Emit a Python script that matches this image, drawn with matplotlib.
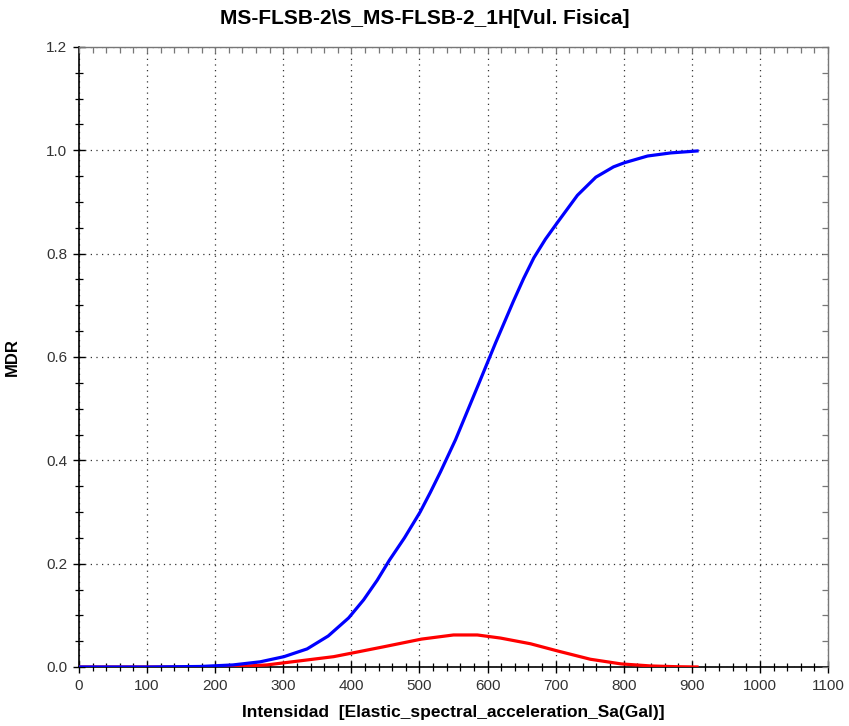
import matplotlib
matplotlib.use("Agg")
import matplotlib.pyplot as plt
from matplotlib.ticker import MultipleLocator, FormatStrFormatter, NullFormatter

plt.rcParams['font.family'] = ['Liberation Sans', 'DejaVu Sans']

# Intensity (Sa, Gal) and mean damage ratio curves
intensity_mdr = [0, 100, 178, 226, 266, 301, 335, 366, 396, 418, 438, 456, 478,
                 501, 516, 531, 553, 587, 612, 638, 653, 668, 685, 703, 732, 759,
                 785, 801, 835, 869, 910]
mdr_mean = [0.0, 0.0, 0.001, 0.004, 0.010, 0.020, 0.035, 0.060, 0.095, 0.130,
            0.168, 0.207, 0.250, 0.300, 0.338, 0.378, 0.440, 0.548, 0.628, 0.708,
            0.752, 0.792, 0.828, 0.861, 0.913, 0.948, 0.968, 0.976, 0.989, 0.995,
            0.999]

intensity_sd = [0, 100, 200, 226, 276, 325, 374, 401, 447, 503, 550, 585, 619,
                663, 703, 751, 796, 840, 880, 910]
mdr_sd = [0.0, 0.0, 0.0, 0.0005, 0.004, 0.012, 0.020, 0.027, 0.039, 0.054,
          0.062, 0.062, 0.056, 0.045, 0.031, 0.015, 0.006, 0.002, 0.0005, 0.0]

title = "MS-FLSB-2\\S_MS-FLSB-2_1H[Vul. Fisica]"
xlabel = "Intensidad  [Elastic_spectral_acceleration_Sa(Gal)]"
ylabel = "MDR"

fig = plt.figure(figsize=(8.49, 7.26), dpi=100)
ax = fig.add_axes([79 / 849, 59 / 726, 749 / 849, 620 / 726])

ax.plot(intensity_sd, mdr_sd, color="#ff0000", lw=2.3, solid_capstyle="butt", zorder=3)
ax.plot(intensity_mdr, mdr_mean, color="#0000ff", lw=2.3, solid_capstyle="butt", zorder=4)

ax.set_xlim(0, 1100)
ax.set_ylim(0, 1.2)
ax.xaxis.set_major_locator(MultipleLocator(100))
ax.xaxis.set_minor_locator(MultipleLocator(20))
ax.yaxis.set_major_locator(MultipleLocator(0.2))
ax.yaxis.set_minor_locator(MultipleLocator(0.05))
ax.yaxis.set_major_formatter(FormatStrFormatter("%.1f"))

ax.grid(True, which="major", color="#333333", linestyle=(0, (1, 3.5)), linewidth=0.9)

for side in ("left", "bottom"):
    ax.spines[side].set_color("black")
    ax.spines[side].set_linewidth(1.2)
for side in ("right", "top"):
    ax.spines[side].set_color("#777777")
    ax.spines[side].set_linewidth(1.0)

ax.tick_params(axis="both", which="major", direction="inout", length=9, width=1.0,
               color="black", labelsize=11, labelcolor="#333333", pad=4,
               top=False, right=False)
ax.tick_params(axis="both", which="minor", direction="inout", length=6, width=0.9,
               color="black", top=False, right=False)

# Inward grey ticks along the top and right edges
ax_top = ax.twiny()
ax_top.set_xlim(ax.get_xlim())
ax_top.xaxis.set_major_locator(MultipleLocator(20))
ax_top.xaxis.set_major_formatter(NullFormatter())
ax_top.tick_params(axis="x", direction="in", length=4, width=0.9, color="#777777")
ax_right = ax.twinx()
ax_right.set_ylim(ax.get_ylim())
ax_right.yaxis.set_major_locator(MultipleLocator(0.05))
ax_right.yaxis.set_major_formatter(NullFormatter())
ax_right.tick_params(axis="y", direction="in", length=4, width=0.9, color="#777777")
for a in (ax_top, ax_right):
    for s in a.spines.values():
        s.set_visible(False)

fig.text(0.5, 1 - 18 / 726, title, fontsize=15, fontweight="bold",
         ha="center", va="center")
ax.set_xlabel(xlabel, fontsize=12.5, fontweight="bold", labelpad=9)
ax.set_ylabel(ylabel, fontsize=12, fontweight="bold")
ax.yaxis.set_label_coords(-0.079, 0.5)

fig.savefig("out.png", dpi=100, facecolor="white")
